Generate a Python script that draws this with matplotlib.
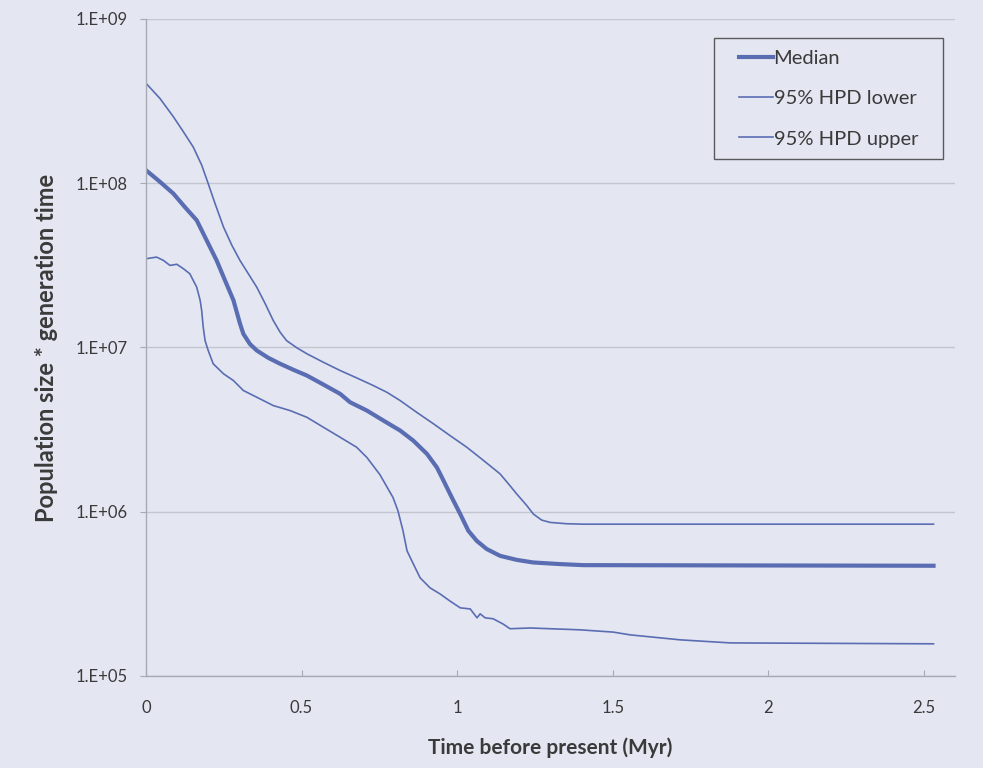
import numpy as np
import matplotlib
matplotlib.use('Agg')
import matplotlib.pyplot as plt
from matplotlib.path import Path

# Values (time in Myr, Ne*g)
t_median = [0.0, 0.045, 0.088, 0.125, 0.163, 0.195, 0.227, 0.254, 0.281, 0.302,
            0.313, 0.334, 0.356, 0.393, 0.431, 0.474, 0.517, 0.570, 0.624, 0.656,
            0.710, 0.763, 0.817, 0.859, 0.903, 0.935, 0.956, 0.983, 1.010, 1.036,
            1.063, 1.095, 1.138, 1.192, 1.245, 1.331, 1.406, 2.531]
median = [1.20e8, 1.02e8, 8.65e7, 7.16e7, 5.95e7, 4.49e7, 3.39e7, 2.56e7, 1.94e7, 1.40e7,
          1.21e7, 1.05e7, 9.59e6, 8.65e6, 7.96e6, 7.31e6, 6.75e6, 5.95e6, 5.22e6, 4.64e6,
          4.13e6, 3.59e6, 3.12e6, 2.71e6, 2.25e6, 1.86e6, 1.55e6, 1.22e6, 9.68e5, 7.66e5,
          6.65e5, 5.93e5, 5.39e5, 5.09e5, 4.91e5, 4.80e5, 4.73e5, 4.69e5]

t_upper = [0.0, 0.045, 0.088, 0.120, 0.152, 0.179, 0.200, 0.222, 0.249, 0.276,
           0.302, 0.329, 0.356, 0.383, 0.409, 0.431, 0.452, 0.485, 0.517, 0.570,
           0.624, 0.677, 0.731, 0.774, 0.817, 0.870, 0.924, 0.977, 1.031, 1.085,
           1.138, 1.170, 1.192, 1.224, 1.245, 1.272, 1.299, 1.353, 1.406, 2.531]
upper = [4.06e8, 3.28e8, 2.54e8, 2.06e8, 1.66e8, 1.29e8, 9.95e7, 7.52e7, 5.42e7, 4.19e7,
         3.39e7, 2.81e7, 2.33e7, 1.85e7, 1.46e7, 1.24e7, 1.10e7, 9.95e6, 9.16e6, 8.13e6,
         7.24e6, 6.53e6, 5.86e6, 5.34e6, 4.75e6, 4.03e6, 3.43e6, 2.91e6, 2.47e6, 2.05e6,
         1.70e6, 1.44e6, 1.28e6, 1.09e6, 9.68e5, 8.89e5, 8.61e5, 8.45e5, 8.40e5, 8.40e5]

t_lower = [0.0, 0.034, 0.056, 0.077, 0.099, 0.120, 0.141, 0.163, 0.174, 0.179,
           0.184, 0.190, 0.200, 0.216, 0.249, 0.281, 0.313, 0.356, 0.409, 0.463,
           0.517, 0.570, 0.624, 0.677, 0.710, 0.752, 0.794, 0.810, 0.826, 0.839,
           0.859, 0.881, 0.913, 0.945, 0.977, 1.010, 1.042, 1.064, 1.074, 1.090,
           1.116, 1.148, 1.170, 1.235, 1.395, 1.502, 1.556, 1.717, 1.878, 2.531]
lower = [3.47e7, 3.55e7, 3.39e7, 3.16e7, 3.21e7, 3.02e7, 2.81e7, 2.33e7, 1.94e7, 1.68e7,
         1.33e7, 1.10e7, 9.59e6, 7.96e6, 6.92e6, 6.29e6, 5.47e6, 4.98e6, 4.43e6, 4.13e6,
         3.76e6, 3.27e6, 2.84e6, 2.47e6, 2.14e6, 1.68e6, 1.22e6, 1.01e6, 7.66e5, 5.78e5,
         4.82e5, 3.96e5, 3.44e5, 3.16e5, 2.86e5, 2.60e5, 2.56e5, 2.26e5, 2.39e5, 2.26e5,
         2.23e5, 2.07e5, 1.94e5, 1.96e5, 1.91e5, 1.85e5, 1.78e5, 1.66e5, 1.59e5, 1.57e5]

x_ticks = [0, 0.5, 1, 1.5, 2, 2.5]
x_labels = ['0', '0.5', '1', '1.5', '2', '2.5']
y_ticks = [1e5, 1e6, 1e7, 1e8, 1e9]
y_labels = ['1.E+05', '1.E+06', '1.E+07', '1.E+08', '1.E+09']

bg = '#e4e7f1'
line_col = '#5a6db3'
text_col = '#3a3a3a'
axis_col = '#a8aab3'

plt.rcParams['font.family'] = ['Lato', 'DejaVu Sans']


def wide_box(x0, y0, width, height, mutation_size):
    # legend frame with extra room left and right, like the Excel original
    dx = 0.65 * mutation_size
    x1, y1 = x0 + width, y0 + height
    return Path([(x0 - dx, y0), (x1 + dx, y0), (x1 + dx, y1), (x0 - dx, y1), (x0 - dx, y0)],
                closed=True)


fig = plt.figure(figsize=(9.83, 7.68), dpi=100, facecolor=bg)
ax = fig.add_axes([0.1485, 0.1198, 0.823, 0.8555], facecolor=bg)

ax.plot(t_median, median, color=line_col, lw=3.0, label='Median', solid_joinstyle='round')
ax.plot(t_upper, upper, color=line_col, lw=1.2, label='95% HPD lower')
ax.plot(t_lower, lower, color=line_col, lw=1.2, label='95% HPD upper')

ax.set_yscale('log')
ax.set_ylim(1e5, 1e9)
ax.set_xlim(0, 2.6)
ax.set_xticks(x_ticks)
ax.set_xticklabels(x_labels)
ax.set_yticks(y_ticks)
ax.set_yticklabels(y_labels)
ax.yaxis.set_minor_locator(matplotlib.ticker.NullLocator())

ax.grid(axis='y', color='#c4c6cf', lw=1.0)
ax.set_axisbelow(True)
for side in ['top', 'right']:
    ax.spines[side].set_visible(False)
for side in ['left', 'bottom']:
    ax.spines[side].set_color(axis_col)
    ax.spines[side].set_linewidth(1.0)

ax.tick_params(axis='y', direction='out', length=4, color=axis_col, labelsize=12,
               labelcolor=text_col, pad=9.5)
ax.tick_params(axis='x', direction='in', length=4, color=axis_col, labelsize=12,
               labelcolor=text_col, pad=17)

ax.set_xlabel('Time before present (Myr)', fontsize=15, fontweight='bold', color=text_col,
              labelpad=16)
ax.set_ylabel('Population size * generation time', fontsize=17, fontweight='bold',
              color=text_col, labelpad=12)

leg = ax.legend(loc='upper right', bbox_to_anchor=(0.969, 0.971), fontsize=14.5,
                handlelength=1.65, handletextpad=0.05, labelspacing=1.15,
                borderpad=0.59, borderaxespad=0, fancybox=False, framealpha=1,
                facecolor=bg, edgecolor='#5a5a5a', labelcolor=text_col)
leg.get_frame().set_linewidth(1.0)
leg.get_frame().set_boxstyle(wide_box)

fig.savefig('out.png', dpi=100, facecolor=bg)
